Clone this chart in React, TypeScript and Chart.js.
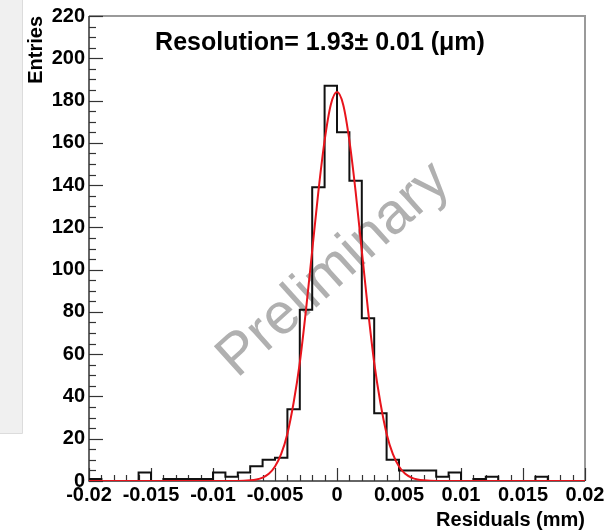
import React, { useEffect, useRef } from "react";
import { Chart, registerables } from "chart.js";

Chart.register(...registerables);

// ---- data ----
const binLowEdges = [
  -0.02, -0.019, -0.018, -0.017, -0.016, -0.015, -0.014, -0.013, -0.012, -0.011,
  -0.01, -0.009, -0.008, -0.007, -0.006, -0.005, -0.004, -0.003, -0.002, -0.001,
  0, 0.001, 0.002, 0.003, 0.004, 0.005, 0.006, 0.007, 0.008, 0.009,
  0.01, 0.011, 0.012, 0.013, 0.014, 0.015, 0.016, 0.017, 0.018, 0.019,
];
const binUpperEdge = 0.02;
const binCounts = [
  1, 0, 0, 0, 4, 0, 1, 1, 1, 1,
  4, 2, 4, 7, 10, 11, 34, 81, 139, 187,
  165, 142, 77, 32, 10, 5, 5, 5, 2, 4,
  0, 1, 2, 0, 0, 0, 2, 0, 0, 0,
];
const fitX = [
  -0.02, -0.01, -0.008, -0.007, -0.0065, -0.006, -0.0055, -0.005, -0.0045, -0.004,
  -0.0035, -0.003, -0.0025, -0.002, -0.0015, -0.001, -0.0005, 0, 0.0005, 0.001,
  0.0015, 0.002, 0.0025, 0.003, 0.0035, 0.004, 0.0045, 0.005, 0.0055, 0.006,
  0.0065, 0.007, 0.008, 0.01, 0.02,
];
const fitY = [
  0, 0, 0, 0.3, 0.7, 1.6, 3.4, 6.9, 12.8, 22.4,
  37, 56, 81, 109, 137, 161, 178, 184, 178, 161,
  137, 109, 81, 56, 37, 22.4, 12.8, 6.9, 3.4, 1.6,
  0.7, 0.3, 0, 0, 0,
];
const xMin = -0.02;
const xMax = 0.02;
const xStep = 0.005;
const xMinorStep = 0.001;
const yMin = 0;
const yMax = 220;
const yStep = 20;
const yMinorStep = 5;
const titleText = "Resolution= 1.93\u00B1 0.01 (\u03BCm)";
const xTitle = "Residuals (mm)";
const yTitle = "Entries";
const watermark = "Preliminary";

const FONT = '"Liberation Sans", Arial, Helvetica, sans-serif';

export default function App() {
  const ref = useRef<HTMLCanvasElement | null>(null);

  useEffect(() => {
    if (!ref.current) return;

    const histPoints = binLowEdges.map((x, i) => ({ x, y: binCounts[i] }));
    histPoints.push({ x: binUpperEdge, y: binCounts[binCounts.length - 1] });
    const fitPoints = fitX.map((x, i) => ({ x, y: fitY[i] }));

    const decor = {
      id: "decor",
      beforeDraw(chart: any) {
        const ctx = chart.ctx;
        ctx.save();
        ctx.fillStyle = "#ffffff";
        ctx.fillRect(0, 0, chart.width, chart.height);
        ctx.fillStyle = "#f0f0f0";
        ctx.fillRect(0, 0, 22, 433);
        ctx.strokeStyle = "#dcdcdc";
        ctx.lineWidth = 1;
        ctx.beginPath();
        ctx.moveTo(22.5, 0);
        ctx.lineTo(22.5, 433.5);
        ctx.lineTo(0, 433.5);
        ctx.stroke();
        ctx.restore();
      },
      beforeDatasetsDraw(chart: any) {
        const ctx = chart.ctx;
        const { left, right, top, bottom } = chart.chartArea;
        const xs = chart.scales.x;
        const ys = chart.scales.y;
        ctx.save();
        // watermark
        ctx.save();
        ctx.translate(334, 270);
        ctx.rotate((-42 * Math.PI) / 180);
        ctx.font = `58px ${FONT}`;
        ctx.fillStyle = "#b0b0b0";
        ctx.textAlign = "center";
        ctx.textBaseline = "middle";
        ctx.fillText(watermark, 0, 0);
        ctx.restore();

        // frame top/right
        ctx.strokeStyle = "#9a9a9a";
        ctx.lineWidth = 2;
        ctx.beginPath();
        ctx.moveTo(left, top);
        ctx.lineTo(right, top);
        ctx.lineTo(right, bottom);
        ctx.stroke();
        // axes
        ctx.strokeStyle = "#333";
        ctx.lineWidth = 1.5;
        ctx.beginPath();
        ctx.moveTo(left, top);
        ctx.lineTo(left, bottom);
        ctx.lineTo(right, bottom);
        ctx.stroke();

        // y ticks
        ctx.lineWidth = 1.2;
        for (let v = yMin; v <= yMax + 1e-9; v += yMinorStep) {
          const py = Math.round(ys.getPixelForValue(v)) + 0.5;
          const major = Math.abs(v / yStep - Math.round(v / yStep)) < 1e-6;
          ctx.beginPath();
          ctx.moveTo(left, py);
          ctx.lineTo(left + (major ? 14 : 7), py);
          ctx.stroke();
        }
        // x ticks
        const n = Math.round((xMax - xMin) / xMinorStep);
        for (let i = 0; i <= n; i++) {
          const v = xMin + i * xMinorStep;
          const px = Math.round(xs.getPixelForValue(v)) + 0.5;
          const major = i % Math.round(xStep / xMinorStep) === 0;
          ctx.beginPath();
          ctx.moveTo(px, bottom);
          ctx.lineTo(px, bottom - (major ? 13 : 6));
          ctx.stroke();
        }
        ctx.restore();
      },
      afterDraw(chart: any) {
        const ctx = chart.ctx;
        ctx.save();
        ctx.font = `bold 25px ${FONT}`;
        ctx.fillStyle = "#000";
        ctx.textAlign = "center";
        ctx.textBaseline = "alphabetic";
        ctx.fillText(titleText, 320, 50);
        ctx.restore();
      },
    };

    const chart = new Chart(ref.current, {
      type: "line",
      data: {
        datasets: [
          {
            label: "fit",
            data: fitPoints,
            borderColor: "#e8141c",
            borderWidth: 2,
            pointRadius: 0,
            cubicInterpolationMode: "monotone",
            fill: false,
            order: 0,
          },
          {
            label: "hist",
            data: histPoints,
            borderColor: "#111111",
            borderWidth: 2,
            pointRadius: 0,
            stepped: "before",
            fill: false,
            order: 1,
          },
        ],
      },
      options: {
        responsive: false,
        animation: false,
        events: [],
        layout: { padding: { top: 16, right: 25, left: 0, bottom: 0 } },
        plugins: {
          legend: { display: false },
          tooltip: { enabled: false },
          title: { display: false },
        },
        scales: {
          x: {
            type: "linear",
            min: xMin,
            max: xMax,
            grid: { display: false, drawTicks: false },
            border: { display: false },
            ticks: {
              stepSize: xStep,
              autoSkip: false,
              maxRotation: 0,
              minRotation: 0,
              padding: 2,
              color: "#000",
              font: { family: FONT, size: 20, weight: "bold" },
              callback: (v: any) => String(+Number(v).toFixed(4)),
            },
            title: {
              display: true,
              text: xTitle,
              align: "end",
              color: "#000",
              padding: 0,
              font: { family: FONT, size: 20, weight: "bold", lineHeight: 1 },
            },
            afterFit: (s: any) => {
              s.height = 49;
              s.paddingLeft = 0;
              s.paddingRight = 0;
            },
          },
          y: {
            type: "linear",
            min: yMin,
            max: yMax,
            grid: { display: false, drawTicks: false },
            border: { display: false },
            ticks: {
              stepSize: yStep,
              padding: 4,
              color: "#000",
              font: { family: FONT, size: 20, weight: "bold" },
            },
            title: {
              display: true,
              text: yTitle,
              align: "end",
              color: "#000",
              padding: { top: 26, bottom: 0 },
              font: { family: FONT, size: 20, weight: "bold", lineHeight: 1 },
            },
            afterFit: (s: any) => {
              s.width = 89;
              s.paddingTop = 0;
              s.paddingBottom = 0;
            },
          },
        },
      },
      plugins: [decor],
    } as any);

    return () => chart.destroy();
  }, []);

  return (
    <div
      style={{
        position: "fixed",
        left: 0,
        top: 0,
        width: 610,
        height: 530,
        background: "#fff",
      }}
    >
      <canvas ref={ref} width={610} height={530} style={{ display: "block" }} />
    </div>
  );
}
